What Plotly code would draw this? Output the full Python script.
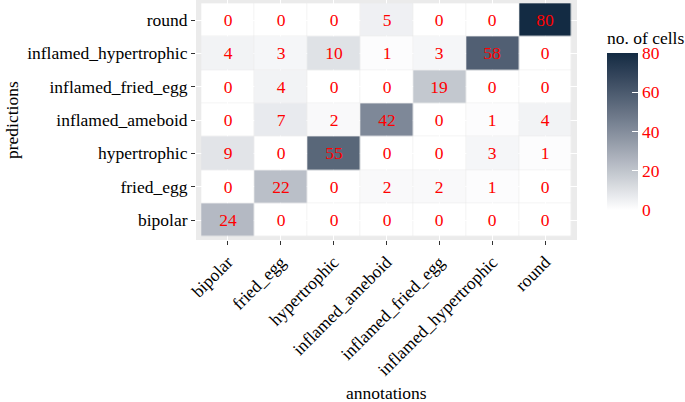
import plotly.graph_objects as go

# ---- data ----
categories = ["bipolar", "fried_egg", "hypertrophic", "inflamed_ameboid",
              "inflamed_fried_egg", "inflamed_hypertrophic", "round"]
# rows = predictions (bottom -> top), columns = annotations (left -> right)
counts_bipolar = [24, 0, 0, 0, 0, 0, 0]
counts_fried_egg = [0, 22, 0, 2, 2, 1, 0]
counts_hypertrophic = [9, 0, 55, 0, 0, 3, 1]
counts_inflamed_ameboid = [0, 7, 2, 42, 0, 1, 4]
counts_inflamed_fried_egg = [0, 4, 0, 0, 19, 0, 0]
counts_inflamed_hypertrophic = [4, 3, 10, 1, 3, 58, 0]
counts_round = [0, 0, 0, 5, 0, 0, 80]
z = [counts_bipolar, counts_fried_egg, counts_hypertrophic, counts_inflamed_ameboid,
     counts_inflamed_fried_egg, counts_inflamed_hypertrophic, counts_round]
colorbar_ticks = [0, 20, 40, 60, 80]


# ---- colour scale: white -> #132B43 interpolated in Lab (ggplot style) ----
def srgb_to_lin(c):
    c = c / 255
    return c / 12.92 if c <= 0.04045 else ((c + 0.055) / 1.055) ** 2.4


def lin_to_srgb(c):
    c = max(0.0, min(1.0, c))
    v = 12.92 * c if c <= 0.0031308 else 1.055 * c ** (1 / 2.4) - 0.055
    return round(v * 255)


def to_lab(rgb):
    r, g, b = [srgb_to_lin(v) for v in rgb]
    X = 0.4124 * r + 0.3576 * g + 0.1805 * b
    Y = 0.2126 * r + 0.7152 * g + 0.0722 * b
    Z = 0.0193 * r + 0.1192 * g + 0.9505 * b
    Xn, Yn, Zn = 0.95047, 1.0, 1.08883

    def f(t):
        return t ** (1 / 3) if t > 0.008856 else 7.787 * t + 16 / 116
    fx, fy, fz = f(X / Xn), f(Y / Yn), f(Z / Zn)
    return 116 * fy - 16, 500 * (fx - fy), 200 * (fy - fz)


def from_lab(lab):
    L, a, bb = lab
    fy = (L + 16) / 116
    fx = fy + a / 500
    fz = fy - bb / 200

    def finv(t):
        return t ** 3 if t ** 3 > 0.008856 else (t - 16 / 116) / 7.787
    X, Y, Z = 0.95047 * finv(fx), finv(fy), 1.08883 * finv(fz)
    r = 3.2406 * X - 1.5372 * Y - 0.4986 * Z
    g = -0.9689 * X + 1.8758 * Y + 0.0415 * Z
    b = 0.0557 * X - 0.2040 * Y + 1.0570 * Z
    return lin_to_srgb(r), lin_to_srgb(g), lin_to_srgb(b)


low = to_lab((255, 255, 255))
high = to_lab((0x13, 0x2B, 0x43))
colorscale = []
n = 20
for i in range(n + 1):
    t = i / n
    lab = tuple(low[k] + (high[k] - low[k]) * t for k in range(3))
    r, g, b = from_lab(lab)
    colorscale.append([t, f"rgb({r},{g},{b})"])

font_family = "Liberation Serif"
fs = 17.5

W, H = 685, 402
ML, MR, MT, MB = 196, 108, 0, 162
pw, ph = W - ML - MR, H - MT - MB

fig = go.Figure(
    go.Heatmap(
        z=z,
        x=categories,
        y=categories,
        zmin=0,
        zmax=80,
        colorscale=colorscale,
        xgap=0.6,
        ygap=0.6,
        texttemplate="%{z}",
        textfont=dict(family=font_family, size=fs, color="red"),
        hoverinfo="skip",
        colorbar=dict(
            title=dict(text="no. of cells", side="top",
                       font=dict(family=font_family, size=fs, color="black")),
            x=(607 - ML) / pw,
            xanchor="left",
            xpad=0,
            y=1 - 28 / ph,
            yanchor="top",
            len=182,
            lenmode="pixels",
            thickness=31,
            thicknessmode="pixels",
            outlinewidth=0,
            tickvals=colorbar_ticks,
            ticks="inside",
            ticklen=6,
            tickcolor="white",
            tickwidth=1,
            tickfont=dict(family=font_family, size=fs, color="red"),
            ypad=0,
        ),
    )
)

fig.update_layout(
    width=W,
    height=H,
    margin=dict(l=ML, r=MR, t=MT, b=MB, autoexpand=False),
    paper_bgcolor="white",
    plot_bgcolor="#EBEBEB",
    font=dict(family=font_family, size=fs, color="black"),
    xaxis=dict(
        type="category",
        range=[-0.6, 6.6],
        tickangle=-45,
        ticks="outside",
        ticklen=4,
        tickcolor="#333333",
        tickwidth=1,
        showgrid=True,
        gridcolor="white",
        gridwidth=1.2,
        zeroline=False,
        automargin=False,
        tickfont=dict(family=font_family, size=fs, color="black"),
    ),
    yaxis=dict(
        type="category",
        range=[-0.6, 6.6],
        ticks="outside",
        ticklen=4,
        tickcolor="#333333",
        tickwidth=1,
        showgrid=True,
        gridcolor="white",
        gridwidth=1.2,
        zeroline=False,
        automargin=False,
        tickfont=dict(family=font_family, size=fs, color="black"),
    ),
    annotations=[
        dict(text="annotations", x=0.5, xref="paper", y=1 - 393 / ph, yref="paper",
             yanchor="middle", showarrow=False,
             font=dict(family=font_family, size=fs, color="black")),
        dict(text="predictions", x=(12 - ML) / pw, y=1 - 120 / ph,
             xref="paper", yref="paper", xanchor="center", yanchor="middle",
             textangle=-90, showarrow=False,
             font=dict(family=font_family, size=fs, color="black")),
    ],
)

fig.write_html(
    "out.html",
    config={"displayModeBar": False},
    post_script="document.body.style.margin='0';document.body.style.overflow='hidden';",
)
